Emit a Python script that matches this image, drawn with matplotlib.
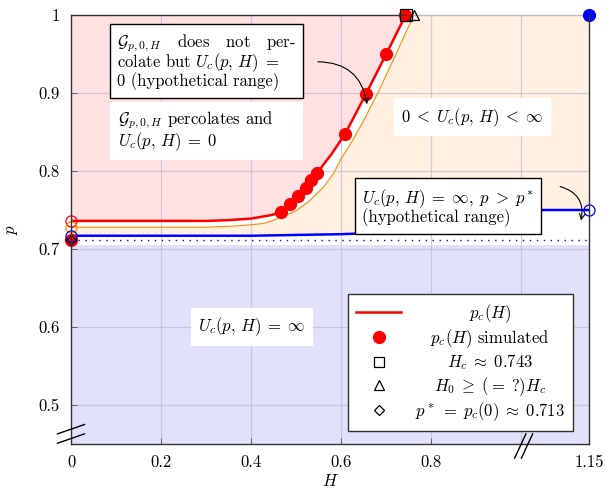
import matplotlib
matplotlib.use('Agg')
import matplotlib.pyplot as plt
import numpy as np
from matplotlib.lines import Line2D

plt.rcParams['font.family'] = 'serif'
plt.rcParams['font.serif'] = ['cmr10', 'DejaVu Serif']
plt.rcParams['mathtext.fontset'] = 'cm'
plt.rcParams['axes.formatter.use_mathtext'] = True
plt.rcParams['axes.unicode_minus'] = False

# ---------------- data ----------------
H_pc = [0.0, 0.2, 0.3, 0.35, 0.4, 0.42, 0.44, 0.455, 0.467, 0.487, 0.503, 0.521, 0.533, 0.547, 0.58, 0.609, 0.655, 0.700, 0.743]
p_pc = [0.736, 0.736, 0.736, 0.737, 0.739, 0.741, 0.743, 0.745, 0.748, 0.758, 0.768, 0.778, 0.788, 0.798, 0.823, 0.848, 0.899, 0.950, 1.0]

H_orange = [0.0, 0.2, 0.3, 0.35, 0.4, 0.43, 0.464, 0.5, 0.53, 0.56, 0.583, 0.6, 0.624, 0.65, 0.681, 0.72, 0.761]
p_orange = [0.728, 0.728, 0.728, 0.729, 0.731, 0.733, 0.740, 0.749, 0.762, 0.779, 0.797, 0.816, 0.838, 0.865, 0.900, 0.948, 1.0]

H_blue = [0.0, 0.4, 0.5, 0.6, 0.65, 0.7, 0.731, 0.78, 0.83, 0.88, 0.93, 0.98, 1.15]
p_blue = [0.717, 0.717, 0.718, 0.719, 0.720, 0.722, 0.724, 0.729, 0.736, 0.743, 0.748, 0.750, 0.750]

H_sim = [0.0, 0.467, 0.487, 0.503, 0.521, 0.533, 0.547, 0.609, 0.655, 0.700, 0.742]
p_sim = [0.711, 0.748, 0.758, 0.768, 0.778, 0.788, 0.798, 0.848, 0.899, 0.950, 1.0]

Hc, H0 = 0.743, 0.761
p_star = 0.711
p_lav_top = 0.705

x_ticks = [0, 0.2, 0.4, 0.6, 0.8, 1.15]
x_tick_labels = ['0', '0.2', '0.4', '0.6', '0.8', '1.15']
x_grid = [0.2, 0.4, 0.6, 0.8, 1.0]
y_ticks = [0.5, 0.6, 0.7, 0.8, 0.9, 1.0]
y_tick_labels = ['0.5', '0.6', '0.7', '0.8', '0.9', '1']

pink = '#ffe1e2'
beige = '#fff0e2'
lav = '#e1e1fb'
red = '#ff0000'
orange = '#ff8c00'
blue = '#0000ff'

fig = plt.figure(figsize=(6.05, 4.91), dpi=100)
ax = fig.add_axes([71/605, (491-444)/491, 518/605, 429/491])
ax.set_xlim(0, 1.15)
ax.set_ylim(0.45, 1.0)

# ---------------- region fills ----------------
ax.fill_between(H_blue, p_blue, 1.0, color=beige, lw=0, zorder=0)
ax.fill_between([0, 1.15], 0.45, p_lav_top, color=lav, lw=0, zorder=0)
ax.fill(np.concatenate([H_pc, H_orange[::-1]]), np.concatenate([p_pc, p_orange[::-1]]),
        color='white', lw=0, zorder=0.5)
ax.fill(np.concatenate([H_pc, [0.0]]), np.concatenate([p_pc, [1.0]]), color=pink, lw=0, zorder=0.5)

# grid
for g in x_grid:
    ax.axvline(g, color='#bdbdcc', lw=0.9, alpha=0.7, zorder=1)
for g in y_ticks[:-1]:
    ax.axhline(g, color='#bdbdcc', lw=0.9, alpha=0.7, zorder=1)

# ---------------- curves ----------------
ax.axhline(p_star, color=blue, ls=(0, (1, 4)), lw=1.0, zorder=2)
ax.plot(H_blue, p_blue, color=blue, lw=1.8, zorder=3)
ax.plot(H_orange, p_orange, color=orange, lw=0.8, zorder=3)
ax.plot(H_pc, p_pc, color=red, lw=1.8, zorder=3)

ax.plot(H_sim, p_sim, 'o', color=red, ms=8.5, zorder=4, clip_on=False)
ax.plot([0], [p_pc[0]], 'o', mfc='none', mec=red, ms=8, mew=0.9, zorder=5, clip_on=False)
ax.plot([0], [p_orange[0]], 'o', mfc='none', mec=orange, ms=8, mew=0.9, zorder=5, clip_on=False)
ax.plot([0], [p_blue[0]], 'o', mfc='none', mec=blue, ms=8, mew=0.9, zorder=5, clip_on=False)
ax.plot([0], [p_star], 'D', mfc='none', mec='black', ms=5.5, mew=0.8, zorder=6, clip_on=False)
ax.plot([Hc], [1.0], 's', mfc='none', mec='black', ms=9, mew=0.9, zorder=6, clip_on=False)
ax.plot([H0], [1.0], '^', mfc='none', mec='black', ms=7, mew=0.9, zorder=6, clip_on=False)
ax.plot([1.15], [1.0], 'o', color=blue, ms=8.5, zorder=6, clip_on=False)
ax.plot([1.15], [p_blue[-1]], 'o', mfc='none', mec=blue, ms=8, mew=0.9, zorder=6, clip_on=False)

# ---------------- axes styling ----------------
fs = 12
ax.set_xticks(x_ticks)
ax.set_xticklabels(x_tick_labels)
ax.set_yticks(y_ticks)
ax.set_yticklabels(y_tick_labels)
ax.tick_params(direction='in', length=4, width=0.6, color='#555555', labelsize=fs, pad=8)
for s in ['left', 'bottom', 'right']:
    ax.spines[s].set_color('#333333')
    ax.spines[s].set_linewidth(1.0)
    ax.spines[s].set_zorder(7)
ax.spines['top'].set_visible(False)
ax.axhline(1.0, xmin=0, xmax=Hc/1.15, color='#333333', lw=1.0, zorder=7, clip_on=False)
ax.axhline(1.0, xmin=Hc/1.15, xmax=1, color='#bbbbbb', lw=1.0, zorder=2, clip_on=False)

ax.set_xlabel('$H$', fontsize=fs)
ax.xaxis.set_label_coords(0.5, -0.068)
ax.set_ylabel('$p$', fontsize=fs)
ax.yaxis.set_label_coords(-0.098, 0.5)

# axis break marks
for off in (-0.012, 0.0):
    ax.plot([-0.03, 0.03], [0.463 + off, 0.475 + off], color='black', lw=1, clip_on=False, zorder=8)
for off in (0.0, 0.015):
    ax.plot([0.985 + off, 1.01 + off], [0.432, 0.463], color='black', lw=1, clip_on=False, zorder=8)

# ---------------- annotations ----------------
ax.text(0.301, 0.940, '$\\mathcal{G}_{p,0,H}$   does   not   per-\ncolate but $U_c(p,\\,H)\\;=$\n0 (hypothetical range)',
        ha='center', va='center', multialignment='left', fontsize=fs, linespacing=0.85, zorder=9,
        bbox=dict(boxstyle='square,pad=0.4', fc='white', ec='black', lw=1.0))
ax.text(0.301, 0.851, '$\\mathcal{G}_{p,0,H}$ percolates and\n$U_c(p,\\,H)\\;=\\;0$               ',
        ha='center', va='center', multialignment='left', fontsize=fs, linespacing=0.95, zorder=9,
        bbox=dict(boxstyle='square,pad=0.45', fc='white', ec='none'))
ax.text(0.891, 0.869, '$0\\;<\\;U_c(p,\\,H)\\;<\\;\\infty$', ha='center', va='center', fontsize=fs, zorder=9,
        bbox=dict(boxstyle='square,pad=0.45', fc='white', ec='none'))
ax.text(0.837, 0.754, '$U_c(p,\\,H)\\;=\\;\\infty,\\;p\\;>\\;p^*$\n(hypothetical range)', ha='center', va='center',
        multialignment='left', fontsize=fs, linespacing=0.85, zorder=9,
        bbox=dict(boxstyle='square,pad=0.45', fc='white', ec='black', lw=1.0))
ax.text(0.402, 0.600, '$U_c(p,\\,H)\\;=\\;\\infty$', ha='center', va='center', fontsize=fs, zorder=9,
        bbox=dict(boxstyle='square,pad=0.45', fc='white', ec='none'))

ax.annotate('', xy=(0.658, 0.882), xytext=(0.542, 0.940),
            arrowprops=dict(arrowstyle='->', color='black', lw=0.8,
                            connectionstyle='arc3,rad=-0.45'), zorder=9)
ax.annotate('', xy=(1.131, 0.733), xytext=(1.080, 0.781),
            arrowprops=dict(arrowstyle='->', color='black', lw=0.8,
                            connectionstyle='arc3,rad=-0.5'), zorder=9)

# ---------------- legend ----------------
handles = [
    Line2D([], [], color=red, lw=1.8),
    Line2D([], [], ls='none', marker='o', color=red, ms=8.5),
    Line2D([], [], ls='none', marker='s', mfc='none', mec='black', ms=7.5, mew=0.9),
    Line2D([], [], ls='none', marker='^', mfc='none', mec='black', ms=7, mew=0.9),
    Line2D([], [], ls='none', marker='D', mfc='none', mec='black', ms=5.5, mew=0.9),
]
labels = ['$p_c(H)$', '$p_c(H)$ simulated', '$H_c\\;\\approx\\;0.743$',
          '$H_0\\;\\geq\\;(=\\;?)H_c$', '$p^*\\;=\\;p_c(0)\\;\\approx\\;0.713$']
leg = ax.legend(handles, labels, loc='lower right', bbox_to_anchor=(0.969, 0.030),
                fontsize=fs, frameon=True, fancybox=False, framealpha=1, edgecolor='#333333',
                handlelength=2.7, handletextpad=0.8, labelspacing=0.15, borderpad=0.5,
                borderaxespad=0)
leg.get_frame().set_linewidth(1.0)
leg.set_zorder(10)

# center legend labels within their column
fig.canvas.draw()
r = fig.canvas.get_renderer()
widths = [t.get_window_extent(r).width for t in leg.get_texts()]
wmax = max(widths)
for t, w in zip(leg.get_texts(), widths):
    t.set_x((wmax - w) / 2)

fig.savefig('out.png', dpi=100)
